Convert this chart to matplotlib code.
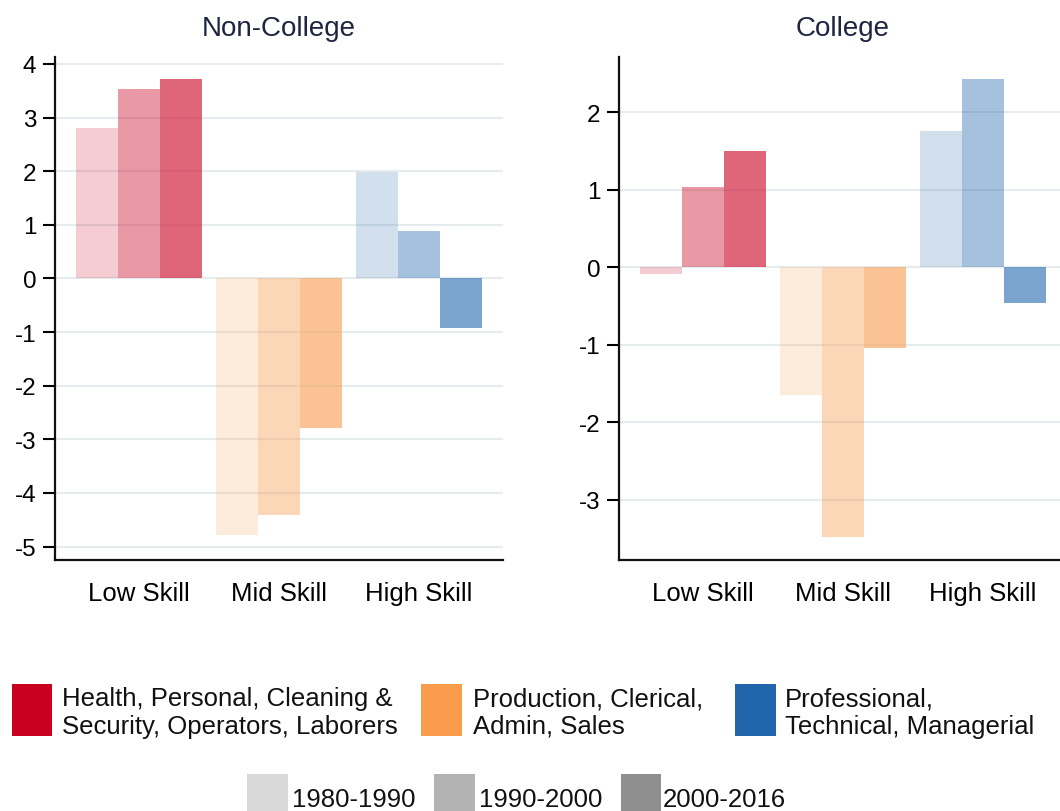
import matplotlib.pyplot as plt
from matplotlib.patches import Rectangle
import numpy as np

plt.rcParams['font.family'] = ['Liberation Sans', 'DejaVu Sans']

# data
groups = ["Low Skill", "Mid Skill", "High Skill"]
periods = ["1980-1990", "1990-2000", "2000-2016"]
non_college = {
    "1980-1990": [2.81, -4.79, 1.98],
    "1990-2000": [3.54, -4.42, 0.89],
    "2000-2016": [3.72, -2.79, -0.92],
}
college = {
    "1980-1990": [-0.09, -1.65, 1.75],
    "1990-2000": [1.03, -3.48, 2.42],
    "2000-2016": [1.50, -1.04, -0.47],
}
occ_labels = ["Health, Personal, Cleaning &\nSecurity, Operators, Laborers",
              "Production, Clerical,\nAdmin, Sales",
              "Professional,\nTechnical, Managerial"]
group_colors = ["#ca0020", "#f99c4c", "#2166ac"]
period_alpha = [0.2, 0.4, 0.6]
period_grays = ["#d9d9d9", "#b3b3b3", "#8f8f8f"]

W, H = 1060, 812
fig = plt.figure(figsize=(W / 100, H / 100), dpi=100)


def px_rect(x0, y0, x1, y1):
    # pixel box (top-left origin) -> figure fraction [l, b, w, h]
    return [x0 / W, 1 - y1 / H, (x1 - x0) / W, (y1 - y0) / H]


def draw_panel(ax, data, title, ylim, yticks):
    x = np.arange(len(groups))
    width = 0.3
    for i, p in enumerate(periods):
        offs = (i - 1) * width
        for g in range(len(groups)):
            ax.bar(x[g] + offs, data[p][g], width, color=group_colors[g],
                   alpha=period_alpha[i], linewidth=0, zorder=3)
    ax.set_xlim(-0.6, 2.6)
    ax.set_ylim(*ylim)
    ax.set_yticks(yticks)
    ax.set_yticklabels([str(t) for t in yticks])
    ax.set_xticks(x)
    ax.set_xticklabels(groups)
    ax.yaxis.grid(True, color="#e6ecee", linewidth=1.5, zorder=0)
    ax.set_axisbelow(True)
    for s in ["top", "right"]:
        ax.spines[s].set_visible(False)
    for s in ["left", "bottom"]:
        ax.spines[s].set_linewidth(1.6)
        ax.spines[s].set_color("#111111")
    ax.tick_params(axis="y", length=9, width=1.5, pad=4.5, labelsize=17.5)
    ax.tick_params(axis="x", length=0, pad=15, labelsize=18.5)
    ax.set_title(title, fontsize=20, color="#1f2440", pad=16)


ax1 = fig.add_axes(px_rect(55, 58, 503, 561))
draw_panel(ax1, non_college, "Non-College", (-5.25, 4.13), list(range(-5, 5)))

ax2 = fig.add_axes(px_rect(619, 58, 1067, 561))
draw_panel(ax2, college, "College", (-3.78, 2.71), list(range(-3, 3)))

# occupation legend
occ_boxes = [(12, 52), (421, 462), (735, 776)]
occ_text_x = [62, 473, 785]
for (x0, x1), tx, c, lab in zip(occ_boxes, occ_text_x, group_colors, occ_labels):
    l, b, w, h = px_rect(x0, 685, x1, 737)
    fig.add_artist(Rectangle((l, b), w, h, transform=fig.transFigure,
                             facecolor=c, edgecolor="none"))
    fig.text(tx / W, 1 - 713 / H, lab, fontsize=18.5, va="center", ha="left",
             linespacing=1.2, color="#111111")

# period legend
per_boxes = [(247, 288), (434, 475), (621, 661)]
per_text_x = [292, 479, 663]
for (x0, x1), tx, c, lab in zip(per_boxes, per_text_x, period_grays, periods):
    l, b, w, h = px_rect(x0, 775, x1, 820)
    fig.add_artist(Rectangle((l, b), w, h, transform=fig.transFigure,
                             facecolor=c, edgecolor="none"))
    fig.text(tx / W, 1 - 800 / H, lab, fontsize=18.5, va="center", ha="left",
             color="#111111")

plt.savefig("out.png", dpi=100)
plt.close()
